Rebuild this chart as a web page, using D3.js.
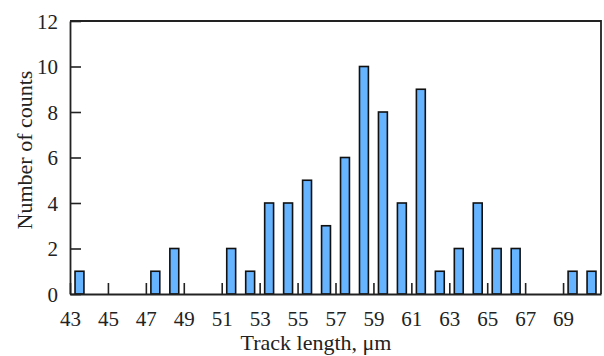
<!DOCTYPE html>
<html>
<head>
<meta charset="utf-8">
<script src="https://cdn.jsdelivr.net/npm/d3@7"></script>
<style>
  body { margin: 0; background: #fff; }
  text { font-family: "Liberation Serif", "Times New Roman", serif; fill: #222; }
</style>
</head>
<body>
<svg id="chart" width="604" height="356"></svg>
<script>
// bin centres (track length, um) and counts
const binCenters = [43.5, 47.5, 48.5, 51.5, 52.5, 53.5, 54.5, 55.5, 56.5, 57.5,
                    58.5, 59.5, 60.5, 61.5, 62.5, 63.5, 64.5, 65.5, 66.5, 69.5, 70.5];
const counts = [1, 1, 2, 2, 1, 4, 4, 5, 3, 6,
                10, 8, 4, 9, 1, 2, 4, 2, 2, 1, 1];
const xTicks = [43, 45, 47, 49, 51, 53, 55, 57, 59, 61, 63, 65, 67, 69];
const yTicks = [0, 2, 4, 6, 8, 10, 12];

const svg = d3.select("#chart");
const m = { left: 70, right: 601, top: 21, bottom: 294 };

const x = d3.scaleLinear().domain([43, 71]).range([m.left, m.right]);
const y = d3.scaleLinear().domain([0, 12]).range([m.bottom, m.top]);
const barW = x(0.47) - x(0);

// bars
svg.append("g").selectAll("rect")
  .data(binCenters)
  .join("rect")
  .attr("x", (d) => x(d) - barW / 2)
  .attr("y", (d, i) => y(counts[i]))
  .attr("width", barW)
  .attr("height", (d, i) => y(0) - y(counts[i]))
  .attr("fill", "#66b3ff")
  .attr("stroke", "#111")
  .attr("stroke-width", 1.6);

// axes, ticks pointing inward
const xAxis = svg.append("g").attr("transform", `translate(0,${m.bottom})`)
  .call(d3.axisBottom(x).tickValues(xTicks).tickSizeInner(-11).tickSizeOuter(0).tickPadding(17));
const yAxis = svg.append("g").attr("transform", `translate(${m.left},0)`)
  .call(d3.axisLeft(y).tickValues(yTicks).tickSizeInner(-11).tickSizeOuter(0).tickPadding(12));

[xAxis, yAxis].forEach(g => {
  g.select(".domain").attr("stroke", "#222").attr("stroke-width", 1.8);
  g.selectAll(".tick line").attr("stroke", "#222").attr("stroke-width", 1.6);
  g.selectAll(".tick text").style("font-size", "21px").attr("fill", "#222")
    .style("font-family", '"Liberation Serif", serif');
});
yAxis.selectAll(".tick text").attr("dy", "0.35em");

// top and right frame
svg.append("path")
  .attr("d", `M${m.left},${m.top}H${m.right}V${m.bottom}`)
  .attr("fill", "none").attr("stroke", "#222").attr("stroke-width", 1.8);

// axis titles
svg.append("text")
  .attr("x", 316).attr("y", 350)
  .attr("text-anchor", "middle")
  .style("font-size", "22px")
  .text("Track length, μm");

svg.append("text")
  .attr("transform", "translate(32,150) rotate(-90)")
  .attr("text-anchor", "middle")
  .style("font-size", "22px")
  .text("Number of counts");
</script>
</body>
</html>
